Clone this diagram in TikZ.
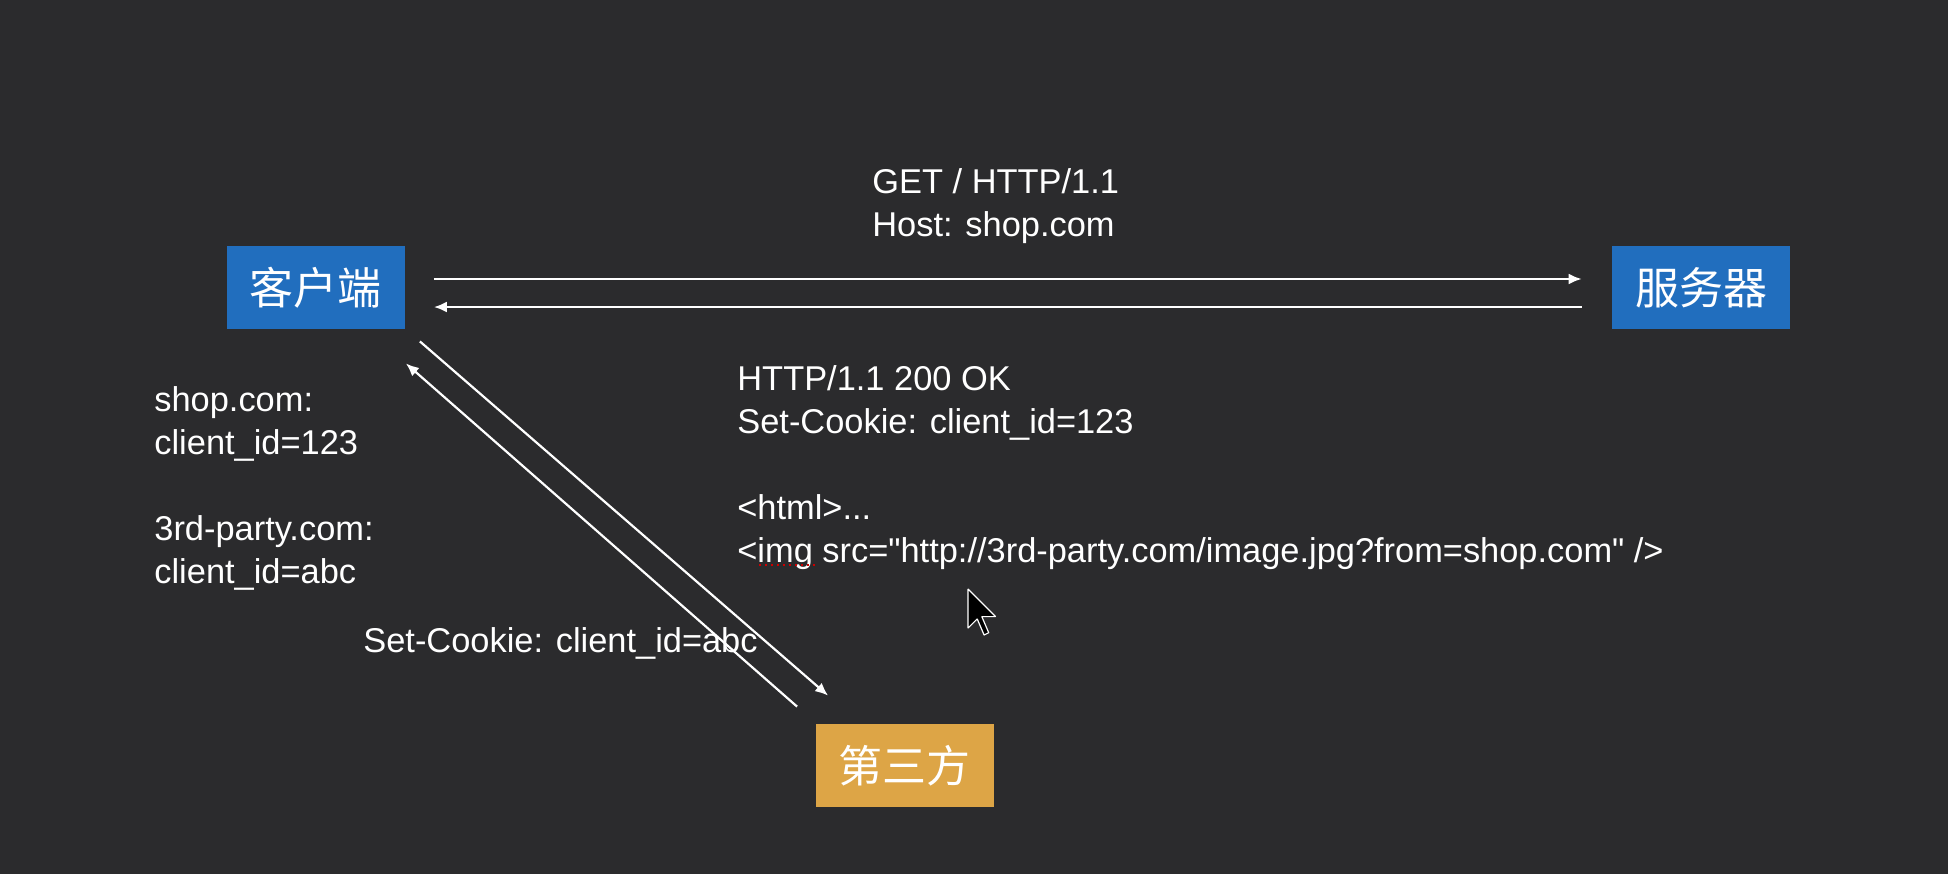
\documentclass[tikz,border=0pt]{standalone}
\usepackage{fontspec}
\setmainfont{Liberation Sans}
\newfontfamily\cjk{Noto Sans CJK SC}
\usetikzlibrary{positioning,arrows.meta}
\definecolor{bgdark}{RGB}{43,43,45}
\definecolor{boxblue}{RGB}{33,110,190}
\definecolor{boxgold}{RGB}{221,165,70}
\tikzset{
  party/.style={draw=none,text=white,font=\cjk\fontsize{22pt}{26pt}\selectfont,
    minimum width=89pt,minimum height=41.5pt,inner sep=0pt},
  msg/.style={text=white,font=\fontsize{17.2pt}{21.5pt}\selectfont,align=left,
    anchor=base west,inner sep=0pt},
  flow/.style={white,line width=1.1pt,->},
}
\begin{document}
\begin{tikzpicture}[>={Latex[length=6.5pt,width=5.5pt]},x=0.5pt,y=-0.5pt,line join=bevel,]
%%
\fill[bgdark] (0,0) rectangle (1948,874);
\useasboundingbox (0,0) rectangle (1948,874);
\node (client) at (315.5,287.5) [party,fill=boxblue] {客户端};
  \node (server) at (1701,287.5) [party,fill=boxblue] {服务器};
  \node (third) at (904.5,765.5) [party,fill=boxgold] {第三方};
  \node (req) at (872,236) [msg] {GET / HTTP/1.1\\Host: shop.com};
  \node (resp) at (737,562) [msg] {HTTP/1.1 200 OK\\Set-Cookie: client\_id=123\\[21.5pt]<html>...\\<img src=\textquotedbl http://3rd-party.com/image.jpg?from=shop.com\textquotedbl{} />};
  \node (jar) at (154,583) [msg] {shop.com:\\client\_id=123\\[21.5pt]3rd-party.com:\\client\_id=abc};
  \node (setabc) at (363,652) [msg] {Set-Cookie: client\_id=abc};
  \draw [flow] ([yshift=4.25pt]client.east) -- ([yshift=4.25pt]server.west) [shorten <=14.5pt,shorten >=15pt];
  \draw [flow] ([yshift=-9.75pt]server.west) -- ([yshift=-9.75pt]client.east) [shorten <=15pt,shorten >=14.5pt];
  \draw [flow] ([shift={(15,12)}]client.south east) -- ([shift={(13,-28)}]third.north west);
  \draw [flow] ([shift={(-18,-17)}]third.north west) -- ([shift={(1,34)}]client.south east);
%
\draw [red!80!black,line width=1pt,dotted] (759,565) -- (817,565);
\draw [white,fill=black,line width=0.6pt,shift={(968,589)},scale=2.3]
  (0,0) -- (0,17) -- (4,13) -- (7,20) -- (9,19) -- (6,12) -- (12,12) -- cycle;
\end{tikzpicture}
\end{document}
